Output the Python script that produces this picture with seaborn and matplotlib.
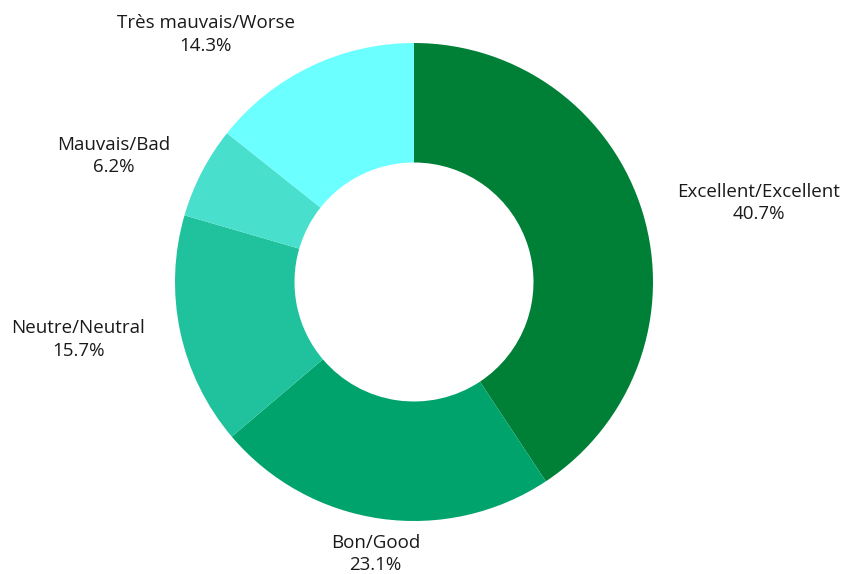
"""
Donut chart: satisfaction breakdown (French/English labels).
"""

import numpy as np
import matplotlib
matplotlib.use("Agg")
import matplotlib.pyplot as plt
import seaborn as sns

# =========================
# Data
# =========================

categories = [
    "Excellent/Excellent",
    "Bon/Good",
    "Neutre/Neutral",
    "Mauvais/Bad",
    "Très mauvais/Worse",
]
shares = [40.7, 23.1, 15.7, 6.2, 14.3]
slice_colors = ["#008037", "#00A36C", "#20C29E", "#48E0CC", "#6CFFFF"]


def main():
    sns.set_theme(style="white")
    plt.rcParams["font.family"] = ["Open Sans", "DejaVu Sans"]

    fig = plt.figure(figsize=(8.48, 5.74), dpi=100)
    ax = fig.add_axes([0, 0, 1, 1])

    palette = sns.color_palette(slice_colors)

    wedges, _ = ax.pie(
        shares,
        colors=palette,
        startangle=90,
        counterclock=False,
        radius=1.0,
        wedgeprops=dict(width=0.5, linewidth=0),
    )

    # etiquetas fuera del anillo
    label_r = 1.15
    for wedge, name, value in zip(wedges, categories, shares):
        mid = np.deg2rad((wedge.theta1 + wedge.theta2) / 2)
        x = label_r * np.cos(mid)
        y = label_r * np.sin(mid)
        if abs(np.cos(mid)) < 0.2:
            ha = "center"
        elif np.cos(mid) > 0:
            ha = "left"
        else:
            ha = "right"
        ax.text(
            x, y, f"{name}\n{value:.1f}%",
            ha=ha, va="center", multialignment="center",
            fontsize=13.5, color="#1a1a1a", linespacing=1.3,
        )

    # centro en (414, 282) px, radio 239 px
    r_px = 239
    ax.set_xlim(-414 / r_px, (848 - 414) / r_px)
    ax.set_ylim(-(574 - 282) / r_px, 282 / r_px)
    ax.set_aspect("auto")
    ax.axis("off")

    fig.savefig("out.png", dpi=100, facecolor="white")
    plt.close(fig)


if __name__ == "__main__":
    main()
